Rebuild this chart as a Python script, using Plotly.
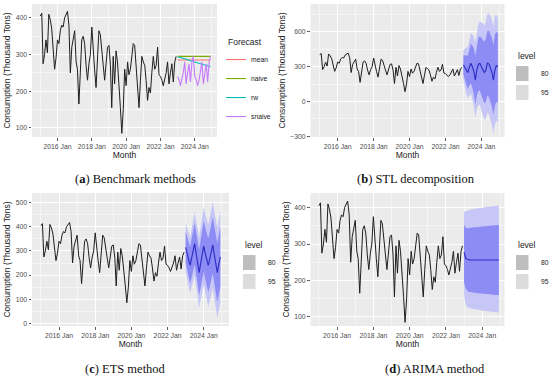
import plotly.graph_objects as go
import pandas as pd

W, H = 550, 378

# ---------------- data ----------------
hist_dates = pd.date_range("2015-01-01", periods=96, freq="MS")
fc_dates = pd.date_range("2023-01-01", periods=24, freq="MS")

consumption = [
    405, 413, 275, 300, 340, 305, 410, 395, 370, 300, 260, 290,   # 2015
    340, 330, 365, 380, 375, 400, 410, 418, 380, 250, 320, 345,   # 2016
    365, 280, 260, 165, 260, 340, 350, 330, 270, 230, 275, 300,   # 2017
    375, 300, 260, 210, 300, 365, 355, 320, 270, 230, 290, 320,   # 2018
    325, 270, 155, 295, 220, 310, 280, 200, 155, 85, 150, 260,    # 2019
    215, 280, 245, 260, 300, 330, 325, 260, 200, 155, 230, 295,   # 2020
    280, 270, 230, 175, 210, 195, 250, 295, 260, 270, 320, 245,   # 2021
    240, 230, 215, 230, 250, 280, 220, 250, 275, 225, 280, 295,   # 2022
]

# (a) benchmark forecasts
fc_mean = [285] * 24
fc_naive = [295] * 24
fc_rw = [294, 293, 292, 290, 289, 288, 287, 286, 285, 283, 282, 281,
         280, 279, 278, 276, 275, 274, 273, 272, 271, 270, 268, 267]
fc_snaive = [240, 230, 215, 230, 250, 280, 220, 250, 275, 225, 280, 295,
             240, 230, 215, 230, 250, 280, 220, 250, 275, 225, 280, 295]

# (b) STL
stl_mean = [315, 290, 265, 250, 295, 330, 300, 260, 185, 275, 320, 330,
            300, 280, 250, 270, 330, 325, 295, 255, 185, 270, 310, 300]
stl_hi95 = [445, 460, 465, 470, 535, 590, 580, 560, 505, 610, 670, 690,
            680, 675, 655, 685, 755, 760, 740, 710, 645, 740, 750, 720]
stl_lo95 = [185, 120, 65, 30, 55, 70, 20, -40, -135, -60, -30, -30,
            -80, -115, -155, -145, -95, -110, -150, -200, -275, -200, -165, -180]
stl_hi80 = [400, 401, 396, 394, 452, 500, 483, 456, 395, 494, 549, 566,
            549, 539, 515, 542, 608, 610, 586, 553, 486, 578, 600, 590]
stl_lo80 = [230, 179, 134, 106, 138, 160, 117, 64, -25, 56, 91, 94,
            51, 21, -15, -2, 52, 40, 4, -43, -116, -38, -1, -14]

# (c) ETS
ets_mean = [315, 290, 260, 240, 270, 305, 330, 290, 245, 210, 250, 290,
            320, 290, 260, 240, 265, 300, 325, 285, 245, 210, 245, 275]
ets_hi95 = [415, 395, 370, 355, 390, 430, 460, 425, 385, 355, 400, 445,
            480, 453, 426, 409, 437, 475, 503, 466, 429, 397, 434, 465]
ets_lo95 = [215, 185, 150, 125, 150, 180, 200, 155, 105, 65, 100, 135,
            160, 127, 94, 71, 93, 125, 147, 104, 61, 23, 56, 85]
ets_hi80 = [380, 359, 332, 315, 349, 387, 415, 378, 337, 305, 348, 392,
            425, 397, 369, 351, 378, 415, 442, 404, 366, 332, 369, 399]
ets_lo80 = [250, 221, 188, 165, 191, 223, 245, 202, 153, 115, 152, 188,
            215, 183, 151, 129, 152, 185, 208, 166, 129, 88, 121, 151]

# (d) ARIMA
ari_mean = [278, 262, 258, 256, 256, 256, 256, 256, 256, 256, 256, 256,
            256, 256, 256, 256, 256, 256, 256, 256, 256, 256, 256, 256]
ari_hi95 = [388, 390, 392, 393, 394, 395, 396, 396, 397, 398, 398, 399,
            400, 400, 401, 401, 402, 402, 403, 403, 404, 404, 405, 405]
ari_lo95 = [160, 134, 128, 125, 124, 123, 122, 121, 120, 119, 119, 118,
            117, 117, 116, 116, 115, 115, 114, 114, 113, 113, 112, 112]
ari_hi80 = [352, 345, 343, 344, 344, 345, 345, 346, 346, 347, 347, 348,
            348, 348, 349, 349, 350, 350, 350, 351, 351, 351, 352, 352]
ari_lo80 = [195, 179, 173, 168, 168, 167, 167, 166, 166, 165, 165, 164,
            164, 164, 163, 163, 162, 162, 162, 161, 161, 161, 160, 160]

x_tick_vals = ["2016-01-01", "2018-01-01", "2020-01-01", "2022-01-01", "2024-01-01"]
x_tick_text = ["2016 Jan", "2018 Jan", "2020 Jan", "2022 Jan", "2024 Jan"]
x_minor_vals = ["2015-01-01", "2017-01-01", "2019-01-01", "2021-01-01", "2023-01-01", "2025-01-01"]

captions = [("a", "Benchmark methods"), ("b", "STL decomposition"),
            ("c", "ETS method"), ("d", "ARIMA method")]

# ---------------- style ----------------
SANS = "Liberation Sans, Arial, sans-serif"
SERIF = "Liberation Serif, Times New Roman, serif"
BG = "#EBEBEB"
C95 = "#C6C6F7"
C80 = "#8C8CF4"
CLINE = "#2C2CC4"
HIST = "#1E1E1E"
COLS = {"mean": "#F8766D", "naive": "#7CAE00", "rw": "#00BFC4", "snaive": "#C77CFF"}

def px_x(p):
    return p / W

def px_y(p):
    return 1 - p / H

panels = {
    "a": dict(xd=[px_x(32), px_x(217)], yd=[px_y(137), px_y(4)],
              xr=["2014-07-08", "2025-04-18"], yr=[75, 438],
              yt=[100, 200, 300, 400], ym=[150, 250, 350]),
    "b": dict(xd=[px_x(310.5), px_x(504.5)], yd=[px_y(137), px_y(4)],
              xr=["2014-06-28", "2025-04-15"], yr=[-306, 841],
              yt=[-300, 0, 300, 600], ym=[-150, 150, 450, 750]),
    "c": dict(xd=[px_x(32), px_x(229)], yd=[px_y(326), px_y(193)],
              xr=["2014-07-05", "2025-05-25"], yr=[-11, 540],
              yt=[0, 100, 200, 300, 400, 500], ym=[50, 150, 250, 350, 450]),
    "d": dict(xd=[px_x(310.5), px_x(504.5)], yd=[px_y(326), px_y(193)],
              xr=["2014-07-15", "2025-03-25"], yr=[75, 440],
              yt=[100, 200, 300, 400], ym=[150, 250, 350]),
}

fig = go.Figure()
axis_ids = {"a": ("x", "y"), "b": ("x2", "y2"), "c": ("x3", "y3"), "d": ("x4", "y4")}

def add_hist(k):
    xa, ya = axis_ids[k]
    fig.add_trace(go.Scatter(x=hist_dates, y=consumption, mode="lines",
                             line=dict(color=HIST, width=1), showlegend=False,
                             xaxis=xa, yaxis=ya, hoverinfo="skip"))

def add_band(k, lo, hi, color):
    xa, ya = axis_ids[k]
    fig.add_trace(go.Scatter(x=fc_dates, y=lo, mode="lines", line=dict(width=0, color=color),
                             showlegend=False, xaxis=xa, yaxis=ya, hoverinfo="skip"))
    fig.add_trace(go.Scatter(x=fc_dates, y=hi, mode="lines", line=dict(width=0, color=color),
                             fill="tonexty", fillcolor=color, showlegend=False,
                             xaxis=xa, yaxis=ya, hoverinfo="skip"))

def add_mean(k, m):
    xa, ya = axis_ids[k]
    fig.add_trace(go.Scatter(x=fc_dates, y=m, mode="lines", line=dict(color=CLINE, width=1.1),
                             showlegend=False, xaxis=xa, yaxis=ya, hoverinfo="skip"))

def add_level_legend(k, legname):
    xa, ya = axis_ids[k]
    for name, col in (("80", "#BEBEBE"), ("95", "#DCDCDC")):
        fig.add_trace(go.Scatter(x=[None], y=[None], mode="markers", name=name,
                                 marker=dict(symbol="square", size=15, color=col),
                                 legend=legname, xaxis=xa, yaxis=ya, showlegend=True))

# (a)
add_hist("a")
for name, vals in (("mean", fc_mean), ("naive", fc_naive), ("rw", fc_rw), ("snaive", fc_snaive)):
    fig.add_trace(go.Scatter(x=fc_dates, y=vals, mode="lines", name=name,
                             line=dict(color=COLS[name], width=1.1), legend="legend",
                             xaxis="x", yaxis="y"))
# (b)
add_hist("b")
add_band("b", stl_lo95, stl_hi95, C95)
add_band("b", stl_lo80, stl_hi80, C80)
add_mean("b", stl_mean)
add_level_legend("b", "legend2")
# (c)
add_hist("c")
add_band("c", ets_lo95, ets_hi95, C95)
add_band("c", ets_lo80, ets_hi80, C80)
add_mean("c", ets_mean)
add_level_legend("c", "legend3")
# (d)
add_hist("d")
add_band("d", ari_lo95, ari_hi95, C95)
add_band("d", ari_lo80, ari_hi80, C80)
add_mean("d", ari_mean)
add_level_legend("d", "legend4")

layout = dict(width=W, height=H, margin=dict(l=0, r=0, t=0, b=0, autoexpand=False),
              paper_bgcolor="white", plot_bgcolor=BG, showlegend=True,
              font=dict(family=SANS, color="#1A1A1A"))

for i, k in enumerate(["a", "b", "c", "d"]):
    p = panels[k]
    sfx = "" if i == 0 else str(i + 1)
    layout["xaxis" + sfx] = dict(
        domain=p["xd"], range=p["xr"], type="date", anchor="y" + sfx,
        tickmode="array", tickvals=x_tick_vals, ticktext=x_tick_text,
        tickfont=dict(size=6.8, color="#4D4D4D", family=SANS),
        ticks="outside", ticklen=2.5, tickwidth=0.8, tickcolor="#333333",
        showgrid=True, gridcolor="white", gridwidth=1, zeroline=False, showline=False,
        minor=dict(tickmode="array", tickvals=x_minor_vals, showgrid=True,
                   gridcolor="white", gridwidth=0.5, ticks=""),
        title=dict(text="Month", font=dict(size=8.5, color="#1A1A1A", family=SANS), standoff=2),
        automargin=False, fixedrange=True,
    )
    layout["yaxis" + sfx] = dict(
        domain=p["yd"], range=p["yr"], anchor="x" + sfx,
        tickmode="array", tickvals=p["yt"],
        tickfont=dict(size=6.8, color="#4D4D4D", family=SANS),
        ticks="outside", ticklen=2.5, tickwidth=0.8, tickcolor="#333333",
        showgrid=True, gridcolor="white", gridwidth=1, zeroline=False, showline=False,
        minor=dict(tickmode="array", tickvals=p["ym"], showgrid=True,
                   gridcolor="white", gridwidth=0.5, ticks=""),
        title=dict(text="Consumption (Thousand Tons)",
                   font=dict(size=8.5, color="#1A1A1A", family=SANS), standoff=3),
        automargin=False, fixedrange=True,
    )

leg_common = dict(xanchor="left", yanchor="top", bgcolor="rgba(0,0,0,0)",
                  font=dict(size=6.8, color="#1A1A1A", family=SANS), traceorder="normal",
                  itemwidth=30, indentation=-15, tracegroupgap=0, itemclick=False)
layout["legend"] = dict(leg_common, x=px_x(226), y=px_y(34),
                        title=dict(text="Forecast", font=dict(size=8.5, color="#1A1A1A", family=SANS)))
for name, lx, ly in (("legend2", 516, 48), ("legend3", 243, 237), ("legend4", 516, 237)):
    layout[name] = dict(leg_common, x=px_x(lx), y=px_y(ly),
                        title=dict(text="level", font=dict(size=8.5, color="#1A1A1A", family=SANS)))

cap_pos = {"a": (135, 179), "b": (416, 179), "c": (125, 369), "d": (435, 369)}
annotations = []
for letter, text in captions:
    cx, cy = cap_pos[letter]
    annotations.append(dict(text=f"(<b>{letter}</b>) {text}", x=px_x(cx), y=px_y(cy),
                            xref="paper", yref="paper", xanchor="center", yanchor="middle",
                            showarrow=False, font=dict(family=SERIF, size=12.5, color="#111111")))
layout["annotations"] = annotations

fig.update_layout(**layout)
fig.write_html("out.html", config={"displayModeBar": False, "staticPlot": True},
               post_script="document.body.style.margin='0px';document.body.style.overflow='hidden';")
